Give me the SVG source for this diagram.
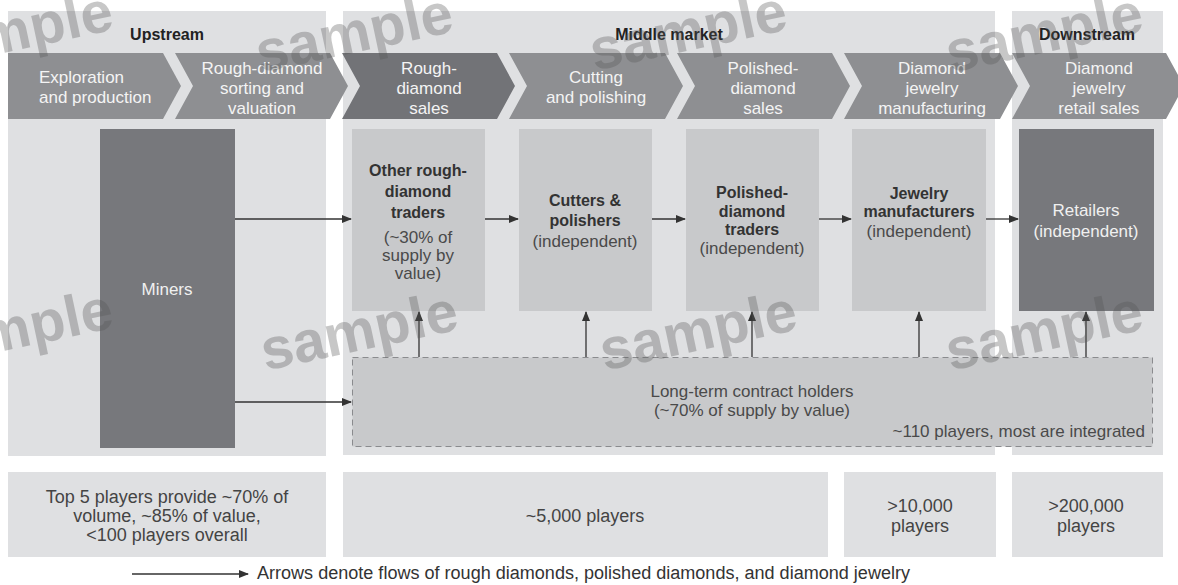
<svg xmlns="http://www.w3.org/2000/svg" width="1178" height="585" viewBox="0 0 1178 585">
<defs>
<style>
.panel{fill:#dfe0e2}
.chev{fill:#8e8f92}
.chevd{fill:#727377}
.dark{fill:#77787c}
.light{fill:#c8c9cb}
.lt{fill:#c8c9cb;stroke:#8a8b8e;stroke-width:1;stroke-dasharray:6 4}
text{font-family:"Liberation Sans",Arial,sans-serif}
.ct{font-size:17px;fill:#f4f4f4;text-anchor:middle}
.cts{font-size:17px;fill:#f4f4f4}
.hd{font-size:16px;font-weight:bold;fill:#222;text-anchor:middle}
.b{font-size:16px;font-weight:bold;fill:#333;text-anchor:middle}
.r{font-size:17px;fill:#4a4a4a;text-anchor:middle}
.w{font-size:17px;fill:#f0f0f0;text-anchor:middle}
.bt{font-size:18px;fill:#444;text-anchor:middle}
.wm{font-size:58px;font-weight:bold;fill:#555;opacity:0.32;text-anchor:middle}
.arr{stroke:#333;stroke-width:1.3;fill:none;marker-end:url(#ah)}
</style>
<marker id="ah" markerUnits="userSpaceOnUse" markerWidth="10" markerHeight="8" refX="9" refY="4" orient="auto">
<path d="M0,0 L10,4 L0,8 Z" fill="#333"/>
</marker>
</defs>
<rect width="1178" height="585" fill="#ffffff"/>

<g id="panels">
<rect class="panel" x="8" y="11" width="318" height="445"/>
<rect class="panel" x="343" y="11" width="652" height="444"/>
<rect class="panel" x="1012" y="11" width="151" height="444"/>
</g>

<g id="headers">
<text class="hd" x="167" y="40">Upstream</text>
<text class="hd" x="669" y="40">Middle market</text>
<text class="hd" x="1087" y="40">Downstream</text>
</g>

<g id="stage-exploration">
<path class="chev" d="M8,53 H163 L181,86 L163,119 H8 Z"/>
<text class="cts" x="39" y="83">Exploration</text>
<text class="cts" x="39" y="103">and production</text>
</g>
<g id="stage-sorting">
<path class="chev" d="M175,53 H330 L348,86 L330,119 H175 L193,86 Z"/>
<text class="ct" x="262" y="74">Rough-diamond</text>
<text class="ct" x="262" y="94">sorting and</text>
<text class="ct" x="262" y="114">valuation</text>
</g>
<g id="stage-rough-sales">
<path class="chevd" d="M342,53 H497 L515,86 L497,119 H342 L360,86 Z"/>
<text class="ct" x="429" y="74">Rough-</text>
<text class="ct" x="429" y="94">diamond</text>
<text class="ct" x="429" y="114">sales</text>
</g>
<g id="stage-cutting">
<path class="chev" d="M509,53 H665 L683,86 L665,119 H509 L527,86 Z"/>
<text class="ct" x="596" y="83">Cutting</text>
<text class="ct" x="596" y="103">and polishing</text>
</g>
<g id="stage-polished-sales">
<path class="chev" d="M677,53 H832 L850,86 L832,119 H677 L695,86 Z"/>
<text class="ct" x="763" y="74">Polished-</text>
<text class="ct" x="763" y="94">diamond</text>
<text class="ct" x="763" y="114">sales</text>
</g>
<g id="stage-jewelry-manufacturing">
<path class="chev" d="M844,53 H1000 L1018,86 L1000,119 H844 L862,86 Z"/>
<text class="ct" x="932" y="74">Diamond</text>
<text class="ct" x="932" y="94">jewelry</text>
<text class="ct" x="932" y="114">manufacturing</text>
</g>
<g id="stage-retail">
<path class="chev" d="M1012,53 H1166 L1184,86 L1166,119 H1012 L1030,86 Z"/>
<text class="ct" x="1099" y="74">Diamond</text>
<text class="ct" x="1099" y="94">jewelry</text>
<text class="ct" x="1099" y="114">retail sales</text>
</g>

<g id="node-miners">
<rect class="dark" x="100" y="129" width="135" height="319"/>
<text class="w" x="167" y="295">Miners</text>
</g>
<g id="node-rough-traders">
<rect class="light" x="352" y="129" width="133" height="182"/>
<text class="b" x="418" y="176">Other rough-</text>
<text class="b" x="418" y="197">diamond</text>
<text class="b" x="418" y="218">traders</text>
<text class="r" x="418" y="243">(~30% of</text>
<text class="r" x="418" y="261">supply by</text>
<text class="r" x="418" y="279">value)</text>
</g>
<g id="node-cutters">
<rect class="light" x="519" y="129" width="133" height="182"/>
<text class="b" x="585" y="206">Cutters &amp;</text>
<text class="b" x="585" y="226">polishers</text>
<text class="r" x="585" y="247">(independent)</text>
</g>
<g id="node-polished-traders">
<rect class="light" x="686" y="129" width="133" height="182"/>
<text class="b" x="752" y="198">Polished-</text>
<text class="b" x="752" y="217">diamond</text>
<text class="b" x="752" y="235">traders</text>
<text class="r" x="752" y="254">(independent)</text>
</g>
<g id="node-jewelry-manufacturers">
<rect class="light" x="852" y="129" width="134" height="182"/>
<text class="b" x="919" y="199">Jewelry</text>
<text class="b" x="919" y="217">manufacturers</text>
<text class="r" x="919" y="237">(independent)</text>
</g>
<g id="node-retailers">
<rect class="dark" x="1019" y="129" width="135" height="182"/>
<text class="w" x="1086" y="216">Retailers</text>
<text class="w" x="1086" y="237">(independent)</text>
</g>
<g id="node-contract-holders">
<rect class="lt" x="352.5" y="357.5" width="800" height="89"/>
<text class="r" x="752" y="397">Long-term contract holders</text>
<text class="r" x="752" y="416">(~70% of supply by value)</text>
<text class="r" x="1145" y="437" style="text-anchor:end">~110 players, most are integrated</text>
</g>

<g id="connectors">
<line class="arr" x1="235" y1="219" x2="351" y2="219"/>
<line class="arr" x1="235" y1="402" x2="351" y2="402"/>
<line class="arr" x1="485" y1="219" x2="518" y2="219"/>
<line class="arr" x1="652" y1="219" x2="685" y2="219"/>
<line class="arr" x1="819" y1="219" x2="851" y2="219"/>
<line class="arr" x1="986" y1="219" x2="1018" y2="219"/>
<line class="arr" x1="419" y1="357" x2="419" y2="312"/>
<line class="arr" x1="586" y1="357" x2="586" y2="312"/>
<line class="arr" x1="752" y1="357" x2="752" y2="312"/>
<line class="arr" x1="919" y1="357" x2="919" y2="312"/>
<line class="arr" x1="1086" y1="357" x2="1086" y2="312"/>
</g>

<g id="summary-upstream">
<rect class="panel" x="8" y="472" width="318" height="85"/>
<text class="bt" x="167" y="503">Top 5 players provide ~70% of</text>
<text class="bt" x="167" y="522">volume, ~85% of value,</text>
<text class="bt" x="167" y="541">&lt;100 players overall</text>
</g>
<g id="summary-middle">
<rect class="panel" x="343" y="472" width="485" height="85"/>
<text class="bt" x="585" y="522">~5,000 players</text>
</g>
<g id="summary-manufacturing">
<rect class="panel" x="844" y="472" width="152" height="85"/>
<text class="bt" x="920" y="512">&gt;10,000</text>
<text class="bt" x="920" y="532">players</text>
</g>
<g id="summary-downstream">
<rect class="panel" x="1012" y="472" width="151" height="85"/>
<text class="bt" x="1086" y="512">&gt;200,000</text>
<text class="bt" x="1086" y="532">players</text>
</g>

<g id="legend">
<line class="arr" x1="132" y1="574" x2="248" y2="574"/>
<text x="257" y="579" style="font-size:18px;fill:#333" textLength="653" lengthAdjust="spacingAndGlyphs">Arrows denote flows of rough diamonds, polished diamonds, and diamond jewelry</text>
</g>

<g id="watermarks">
<text class="wm" x="18" y="50" transform="rotate(-12 18 50)">sample</text>
<text class="wm" x="358" y="52" transform="rotate(-12 358 52)">sample</text>
<text class="wm" x="692" y="50" transform="rotate(-12 692 50)">sample</text>
<text class="wm" x="1048" y="52" transform="rotate(-12 1048 52)">sample</text>
<text class="wm" x="18" y="348" transform="rotate(-12 18 348)">sample</text>
<text class="wm" x="363" y="350" transform="rotate(-12 363 350)">sample</text>
<text class="wm" x="702" y="350" transform="rotate(-12 702 350)">sample</text>
<text class="wm" x="1048" y="350" transform="rotate(-12 1048 350)">sample</text>
</g>
</svg>
